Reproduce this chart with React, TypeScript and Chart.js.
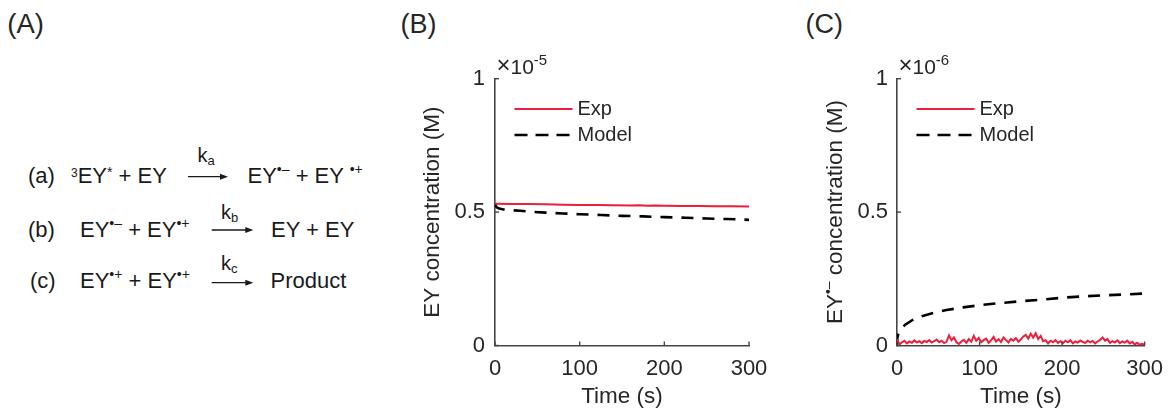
import React, { useEffect, useRef } from "react";
import { Chart, registerables } from "chart.js";

Chart.register(...registerables);

const FONT = "'Liberation Sans', Arial, Helvetica, sans-serif";
const RED = "#EC1E3C";
const AXIS = "#454545";
const TEXT = "#262626";

// Shared axis ticks
const xTicks = [0, 100, 200, 300];
const xTickLabels = ["0", "100", "200", "300"];
const yTicks = [0, 0.5, 1];
const yTickLabels = ["0", "0.5", "1"];

// (B) EY concentration, in units of 1e-5 M
const timeExpB = [0, 20, 40, 60, 80, 100, 120, 140, 160, 170, 180, 190, 200, 220, 240, 260, 280, 300];
const expB = [0.531, 0.530, 0.530, 0.529, 0.528, 0.527, 0.527, 0.526, 0.525, 0.526, 0.524, 0.525, 0.524, 0.523, 0.523, 0.522, 0.522, 0.521];
const timeModelB = [0, 2, 5, 10, 20, 30, 45, 60, 80, 100, 125, 150, 175, 200, 225, 250, 275, 300];
const modelB = [0.530, 0.518, 0.513, 0.510, 0.507, 0.505, 0.501, 0.498, 0.495, 0.492, 0.489, 0.486, 0.484, 0.481, 0.479, 0.476, 0.474, 0.471];

// (C) EY radical anion concentration, in units of 1e-6 M
const timeExpC = [
  0, 3, 6, 9, 12, 15, 18, 21, 24, 27, 30, 33, 36, 39, 42, 45, 48, 51, 54, 57,
  60, 63, 66, 69, 72, 75, 78, 81, 84, 87, 90, 93, 96, 99, 102, 105, 108, 111, 114, 117,
  120, 123, 126, 129, 132, 135, 138, 141, 144, 147, 150, 153, 156, 159, 162, 165, 168, 171, 174, 177,
  180, 183, 186, 189, 192, 195, 198, 201, 204, 207, 210, 213, 216, 219, 222, 225, 228, 231, 234, 237,
  240, 243, 246, 249, 252, 255, 258, 261, 264, 267, 270, 273, 276, 279, 282, 285, 288, 291, 294, 297, 300,
];
const expC = [
  0.024, 0.004, 0.012, 0.018, 0.008, 0.015, 0.010, 0.019, 0.012, 0.016, 0.009, 0.017, 0.013, 0.020, 0.011, 0.016, 0.022, 0.012, 0.018, 0.009,
  0.014, 0.038, 0.020, 0.030, 0.012, 0.006, 0.015, 0.021, 0.010, 0.024, 0.014, 0.036, 0.018, 0.028, 0.012, 0.020, 0.026, 0.010, 0.019, 0.032,
  0.015, 0.024, 0.013, 0.030, 0.020, 0.011, 0.025, 0.018, 0.028, 0.014, 0.022, 0.034, 0.040, 0.026, 0.044, 0.030, 0.046, 0.024, 0.036, 0.016,
  0.020, 0.008, 0.018, 0.012, 0.020, 0.010, 0.016, 0.009, 0.018, 0.012, 0.020, 0.008, 0.015, 0.011, 0.019, 0.013, 0.010, 0.018, 0.012, 0.017,
  0.008, 0.015, 0.021, 0.030, 0.018, 0.024, 0.010, 0.016, 0.012, 0.019, 0.009, 0.015, 0.011, 0.018, 0.008, 0.014, 0.004, 0.010, 0.003, 0.006, 0.002,
];
const timeModelC = [0, 0.5, 2, 5, 10, 20, 30, 45, 60, 80, 100, 125, 150, 175, 200, 225, 250, 275, 300];
const modelC = [0, 0.030, 0.050, 0.062, 0.078, 0.098, 0.110, 0.123, 0.133, 0.143, 0.151, 0.159, 0.166, 0.172, 0.179, 0.184, 0.188, 0.191, 0.195];

type Seg = { text: string; sup?: boolean };

const toPoints = (xs: number[], ys: number[]) => xs.map((x, i) => ({ x, y: ys[i] }));

const decorPlugin = {
  id: "decor",
  afterDraw(chart: any, _args: any, opts: any) {
    const { ctx, chartArea: a } = chart;
    const xs = chart.scales.x;
    const ys = chart.scales.y;
    ctx.save();

    // inward tick marks
    ctx.strokeStyle = AXIS;
    ctx.lineWidth = 1.4;
    ctx.setLineDash([]);
    xs.ticks.forEach((t: any) => {
      const px = xs.getPixelForValue(t.value);
      ctx.beginPath();
      ctx.moveTo(px, a.bottom);
      ctx.lineTo(px, a.bottom - 4);
      ctx.stroke();
    });
    ys.ticks.forEach((t: any) => {
      const py = ys.getPixelForValue(t.value);
      ctx.beginPath();
      ctx.moveTo(a.left, py);
      ctx.lineTo(a.left + 4, py);
      ctx.stroke();
    });

    // axis exponent
    ctx.fillStyle = TEXT;
    ctx.textAlign = "left";
    ctx.textBaseline = "alphabetic";
    const ex = a.left + 1.5;
    const ey = a.top - 5;
    ctx.font = `24px ${FONT}`;
    ctx.fillText("×", ex, ey - 0.5);
    const wx = ctx.measureText("×").width;
    ctx.font = `21px ${FONT}`;
    ctx.fillText("10", ex + wx, ey);
    const w10 = ctx.measureText("10").width;
    ctx.font = `15px ${FONT}`;
    ctx.fillText(opts.exponent, ex + wx + w10, ey - 9);

    // legend
    chart.data.datasets.forEach((ds: any, i: number) => {
      const ly = a.top + 30.3 + i * 26;
      ctx.strokeStyle = ds.borderColor;
      ctx.lineWidth = ds.borderWidth;
      ctx.setLineDash(i === 0 ? [] : [13, 8]);
      ctx.beginPath();
      ctx.moveTo(a.left + 19.5, ly);
      ctx.lineTo(a.left + (i === 0 ? 77.5 : 74.5), ly);
      ctx.stroke();
      ctx.setLineDash([]);
      ctx.fillStyle = TEXT;
      ctx.font = `20px ${FONT}`;
      ctx.textBaseline = "middle";
      ctx.fillText(ds.label, a.left + 82.5, ly + 0.5);
    });

    // rotated y-axis title with optional superscripts
    const segs: Seg[] = opts.yTitle;
    const mainFont = `22.5px ${FONT}`;
    const supFont = `14px ${FONT}`;
    ctx.translate(opts.titleX, (a.top + a.bottom) / 2);
    ctx.rotate(-Math.PI / 2);
    ctx.textBaseline = "alphabetic";
    let total = 0;
    segs.forEach((s) => {
      ctx.font = s.sup ? supFont : mainFont;
      total += ctx.measureText(s.text).width;
    });
    let cx = -total / 2;
    segs.forEach((s) => {
      ctx.font = s.sup ? supFont : mainFont;
      ctx.fillText(s.text, cx, s.sup ? -1 : 8);
      cx += ctx.measureText(s.text).width;
    });
    ctx.restore();
  },
};

type PanelProps = {
  left: number;
  width: number;
  padRight: number;
  titleX: number;
  yPad: number;
  exponent: string;
  yTitle: Seg[];
  exp: { x: number; y: number }[];
  model: { x: number; y: number }[];
};

function Panel(p: PanelProps) {
  const ref = useRef<HTMLCanvasElement>(null);
  useEffect(() => {
    if (!ref.current) return;
    const tickFont = { family: FONT, size: 22 };
    const chart = new Chart(ref.current, {
      type: "line",
      data: {
        datasets: [
          {
            label: "Exp",
            data: p.exp,
            borderColor: RED,
            borderWidth: 2,
            pointRadius: 0,
            tension: 0,
            fill: false,
          },
          {
            label: "Model",
            data: p.model,
            borderColor: "#000000",
            borderWidth: 2.6,
            borderDash: [12, 9],
            pointRadius: 0,
            tension: 0,
            fill: false,
          },
        ],
      },
      options: {
        animation: false,
        responsive: false,
        maintainAspectRatio: false,
        layout: { padding: { left: 0, right: p.padRight, top: 78.7, bottom: 0 } },
        plugins: {
          legend: { display: false },
          tooltip: { enabled: false },
          decor: { exponent: p.exponent, yTitle: p.yTitle, titleX: p.titleX },
        } as any,
        scales: {
          x: {
            type: "linear",
            min: 0,
            max: 300,
            afterBuildTicks: (s: any) => {
              s.ticks = xTicks.map((v) => ({ value: v }));
            },
            afterFit: (s: any) => {
              s.height = 62.5;
            },
            ticks: {
              padding: 10,
              font: tickFont,
              color: TEXT,
              maxRotation: 0,
              autoSkip: false,
              callback: (_v: any, i: number) => xTickLabels[i],
            },
            grid: { display: false, drawTicks: false },
            border: { display: true, color: AXIS, width: 1.6 },
            title: {
              display: true,
              text: "Time (s)",
              color: TEXT,
              font: { family: FONT, size: 22.5, lineHeight: 1 },
              padding: { top: 0, bottom: 0 },
            },
          },
          y: {
            type: "linear",
            min: 0,
            max: 1,
            afterBuildTicks: (s: any) => {
              s.ticks = yTicks.map((v) => ({ value: v }));
            },
            afterFit: (s: any) => {
              s.width = 100;
            },
            ticks: {
              padding: p.yPad,
              font: tickFont,
              color: TEXT,
              autoSkip: false,
              callback: (_v: any, i: number) => yTickLabels[i],
            },
            grid: { display: false, drawTicks: false },
            border: { display: true, color: AXIS, width: 1.6 },
          },
        },
      } as any,
      plugins: [decorPlugin],
    });
    return () => chart.destroy();
  }, []);
  return (
    <canvas
      ref={ref}
      width={p.width}
      height={408}
      style={{ position: "absolute", left: p.left, top: 0, width: p.width, height: 408 }}
    />
  );
}

function Arrow({ x1, x2, y }: { x1: number; x2: number; y: number }) {
  return (
    <g>
      <line x1={x1} y1={y} x2={x2 - 6} y2={y} stroke="#1a1a1a" strokeWidth={1.3} />
      <polygon points={`${x2},${y} ${x2 - 8},${y - 3} ${x2 - 8},${y + 3}`} fill="#1a1a1a" />
    </g>
  );
}

const SUP = 14;
const RISE = 9;

function Scheme() {
  const t = { whiteSpace: "pre" as const };
  return (
    <svg
      width={1173}
      height={408}
      style={{ position: "absolute", left: 0, top: 0 }}
      fontFamily={FONT}
      fill="#1a1a1a"
    >
      <text x={7.3} y={33.3} fontSize={27.5} fill={TEXT}>(A)</text>
      <text x={400.5} y={33.3} fontSize={27} fill={TEXT}>(B)</text>
      <text x={805.5} y={33.3} fontSize={27} fill={TEXT}>(C)</text>

      {/* (a) */}
      <text x={28} y={183.3} fontSize={22} style={t}>(a)</text>
      <text x={71} y={183.3} fontSize={22} style={t}>
        <tspan fontSize={12} dy={-6.6}>3</tspan>
        <tspan dy={6.6}>EY</tspan>
        <tspan fontSize={SUP} dy={-6}>*</tspan>
        <tspan dy={6}>{" + EY"}</tspan>
      </text>
      <Arrow x1={188} x2={228} y={176.7} />
      <text x={197.5} y={161.7} fontSize={20}>
        k<tspan fontSize={13} dy={3.5}>a</tspan>
      </text>
      <text x={247.5} y={183.3} fontSize={22} style={t}>
        <tspan>EY</tspan>
        <tspan fontSize={SUP} dy={-RISE}>•–</tspan>
        <tspan dy={RISE}>{" + EY "}</tspan>
        <tspan fontSize={SUP} dy={-RISE}>•+</tspan>
      </text>

      {/* (b) */}
      <text x={28} y={237.3} fontSize={22} style={t}>(b)</text>
      <text x={80} y={237.3} fontSize={22} style={t}>
        <tspan>EY</tspan>
        <tspan fontSize={SUP} dy={-RISE}>•–</tspan>
        <tspan dy={RISE}>{" + EY"}</tspan>
        <tspan fontSize={SUP} dy={-RISE}>•+</tspan>
      </text>
      <Arrow x1={211.7} x2={253.3} y={230} />
      <text x={221} y={218.5} fontSize={20}>
        k<tspan fontSize={13} dy={3.5}>b</tspan>
      </text>
      <text x={271} y={237.3} fontSize={22} style={t}>EY + EY</text>

      {/* (c) */}
      <text x={30} y={288.3} fontSize={22} style={t}>(c)</text>
      <text x={80} y={288.3} fontSize={22} style={t}>
        <tspan>EY</tspan>
        <tspan fontSize={SUP} dy={-RISE}>•+</tspan>
        <tspan dy={RISE}>{" + EY"}</tspan>
        <tspan fontSize={SUP} dy={-RISE}>•+</tspan>
      </text>
      <Arrow x1={211.7} x2={253.3} y={282.7} />
      <text x={221} y={269.5} fontSize={20}>
        k<tspan fontSize={13} dy={3.5}>c</tspan>
      </text>
      <text x={270.5} y={288.3} fontSize={22} style={t}>Product</text>
    </svg>
  );
}

export default function App() {
  return (
    <div
      style={{
        position: "absolute",
        left: 0,
        top: 0,
        width: 1173,
        height: 408,
        background: "#ffffff",
        overflow: "hidden",
      }}
    >
      <Scheme />
      <Panel
        left={395}
        width={395}
        padRight={41}
        titleX={36}
        yPad={10}
        exponent="-5"
        yTitle={[{ text: "EY concentration (M)" }]}
        exp={toPoints(timeExpB, expB)}
        model={toPoints(timeModelB, modelB)}
      />
      <Panel
        left={797}
        width={376}
        padRight={20.3}
        titleX={37}
        yPad={9}
        exponent="-6"
        yTitle={[{ text: "EY" }, { text: "•–", sup: true }, { text: " concentration (M)" }]}
        exp={toPoints(timeExpC, expC)}
        model={toPoints(timeModelC, modelC)}
      />
    </div>
  );
}
